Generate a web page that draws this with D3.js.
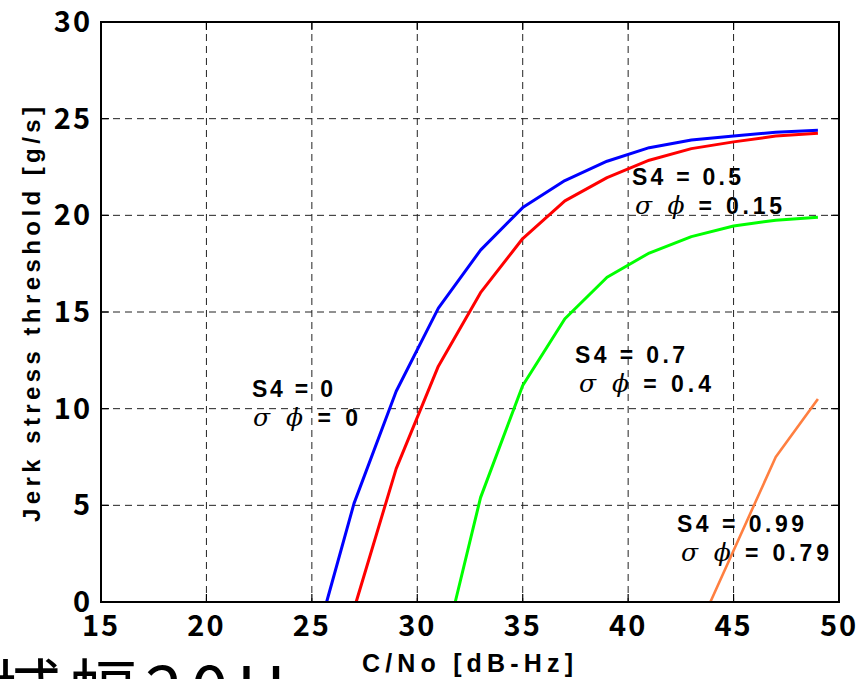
<!DOCTYPE html>
<html>
<head>
<meta charset="utf-8">
<script src="https://cdn.jsdelivr.net/npm/d3@7"></script>
<style>
  body { margin: 0; background: #fff; }
  svg { display: block; }
  .tick_label { font-family: "Noto Sans CJK JP", sans-serif; font-weight: bold; font-size: 29px; fill: #000; }
  .axis_label { font-family: "Liberation Sans", Arial, sans-serif; font-weight: bold; fill: #000; }
  .note { font-family: "Liberation Sans", Arial, sans-serif; font-weight: bold; font-size: 23px; fill: #000; }
  .greek { font-family: "DejaVu Serif", serif; font-style: italic; font-weight: normal; font-size: 25px; }
  .grid_line { stroke: #222; stroke-width: 1; stroke-dasharray: 7,5; }
</style>
</head>
<body>
<div id="chart"></div>
<script>
// values
const xTicks = [15, 20, 25, 30, 35, 40, 45, 50];
const yTicks = [0, 5, 10, 15, 20, 25, 30];

const cnoS0 = [25.7, 27, 29, 31, 33, 35, 37, 39, 41, 43, 45, 47, 49];
const jerkS0 = [0, 5.1, 10.9, 15.2, 18.2, 20.4, 21.8, 22.8, 23.5, 23.9, 24.1, 24.3, 24.4];

const cnoS05 = [27.1, 29, 31, 33, 35, 37, 39, 41, 43, 45, 47, 49];
const jerkS05 = [0, 6.9, 12.2, 16.0, 18.8, 20.75, 21.95, 22.85, 23.45, 23.8, 24.1, 24.25];

const cnoS07 = [31.8, 33, 35, 37, 39, 41, 43, 45, 47, 49];
const jerkS07 = [0, 5.4, 11.2, 14.65, 16.8, 18.05, 18.9, 19.45, 19.75, 19.9];

const cnoS099 = [43.9, 47, 49];
const jerkS099 = [0, 7.5, 10.5];

const noteS4 = ['0', '0.5', '0.7', '0.99'];
const noteSigma = ['0', '0.15', '0.4', '0.79'];

const seriesColors = ['#0000ff', '#ff0000', '#00ff00', '#ff7f40'];

// where each note sits: [x line1, baseline line1, width line1, x line2, width line2]
const notePos = [
	[252, 397, 81, 253, 105],
	[632, 185, 109, 635, 147],
	[575, 363, 110, 579, 132],
	[677, 532, 127, 681, 148]
];

const W = 859, H = 679;
const m = { left: 101, top: 22, right: 839, bottom: 602 };

const svg = d3.select('#chart').append('svg')
	.attr('width', W)
	.attr('height', H);

const x = d3.scaleLinear().domain([15, 50]).range([m.left, m.right]);
const y = d3.scaleLinear().domain([0, 30]).range([m.bottom, m.top]);

// grid
svg.append('g')
	.selectAll('.grid_v')
	.data(xTicks.slice(1, -1)).enter()
	.append('line')
	.attr('class', 'grid_line')
	.attr('x1', d => x(d)).attr('x2', d => x(d))
	.attr('y1', m.top).attr('y2', m.bottom);

svg.append('g')
	.selectAll('.grid_h')
	.data(yTicks.slice(1, -1)).enter()
	.append('line')
	.attr('class', 'grid_line')
	.attr('x1', m.left).attr('x2', m.right)
	.attr('y1', d => y(d)).attr('y2', d => y(d));

// inward ticks on all four sides
const tickLen = 8;
const gTicks = svg.append('g').attr('stroke', '#000').attr('stroke-width', 1.2);
xTicks.forEach(t => {
	gTicks.append('line').attr('x1', x(t)).attr('x2', x(t)).attr('y1', m.bottom).attr('y2', m.bottom - tickLen);
	gTicks.append('line').attr('x1', x(t)).attr('x2', x(t)).attr('y1', m.top).attr('y2', m.top + tickLen);
});
yTicks.forEach(t => {
	gTicks.append('line').attr('x1', m.left).attr('x2', m.left + tickLen).attr('y1', y(t)).attr('y2', y(t));
	gTicks.append('line').attr('x1', m.right).attr('x2', m.right - tickLen).attr('y1', y(t)).attr('y2', y(t));
});

// curves
const line = d3.line()
	.x(d => x(d[0]))
	.y(d => y(d[1]));

const series = [
	d3.zip(cnoS0, jerkS0),
	d3.zip(cnoS05, jerkS05),
	d3.zip(cnoS07, jerkS07),
	d3.zip(cnoS099, jerkS099)
];

svg.append('g')
	.selectAll('.curve')
	.data(series).enter()
	.append('path')
	.attr('class', 'curve')
	.attr('d', line)
	.attr('fill', 'none')
	.attr('stroke', (d, i) => seriesColors[i])
	.attr('stroke-width', (d, i) => i == 3 ? 2.6 : 3)
	.attr('stroke-linejoin', 'round');

// box
svg.append('rect')
	.attr('x', m.left).attr('y', m.top)
	.attr('width', m.right - m.left).attr('height', m.bottom - m.top)
	.attr('fill', 'none')
	.attr('stroke', '#000')
	.attr('stroke-width', 2);

// tick labels
svg.append('g')
	.selectAll('.x_tick')
	.data(xTicks).enter()
	.append('text')
	.attr('class', 'tick_label')
	.attr('x', d => x(d))
	.attr('y', 636)
	.attr('text-anchor', 'middle')
	.attr('letter-spacing', 2)
	.text(d => d);

svg.append('g')
	.selectAll('.y_tick')
	.data(yTicks).enter()
	.append('text')
	.attr('class', 'tick_label')
	.attr('x', 92)
	.attr('y', d => y(d) + 10)
	.attr('text-anchor', 'end')
	.attr('letter-spacing', 2)
	.text(d => d);

// axis labels
svg.append('text')
	.attr('class', 'axis_label')
	.attr('x', 362)
	.attr('y', 672)
	.attr('font-size', 25)
	.attr('textLength', 211)
	.attr('lengthAdjust', 'spacing')
	.text('C/No [dB-Hz]');

svg.append('text')
	.attr('class', 'axis_label')
	.attr('transform', 'translate(40,522) rotate(-90)')
	.attr('font-size', 24)
	.attr('textLength', 415)
	.attr('lengthAdjust', 'spacing')
	.text('Jerk stress threshold [g/s]');

// annotations
const gNotes = svg.append('g');
noteS4.forEach((s4, i) => {
	const p = notePos[i];
	gNotes.append('text')
		.attr('class', 'note')
		.attr('x', p[0])
		.attr('y', p[1])
		.attr('textLength', p[2])
		.attr('lengthAdjust', 'spacing')
		.text('S4 = ' + s4);
	const t2 = gNotes.append('text')
		.attr('class', 'note')
		.attr('x', p[3])
		.attr('y', p[1] + 29)
		.attr('textLength', p[4])
		.attr('lengthAdjust', 'spacing');
	t2.append('tspan').attr('class', 'greek').text('σ ϕ');
	t2.append('tspan').text(' = ' + noteSigma[i]);
});

// cut-off caption at the bottom left
svg.append('text')
	.attr('x', -83)
	.attr('y', 716)
	.attr('font-family', '"Noto Sans CJK JP", sans-serif')
	.attr('font-size', 68)
	.attr('letter-spacing', 8)
	.attr('fill', '#000')
	.text('帯域幅20Hz');
</script>
</body>
</html>
